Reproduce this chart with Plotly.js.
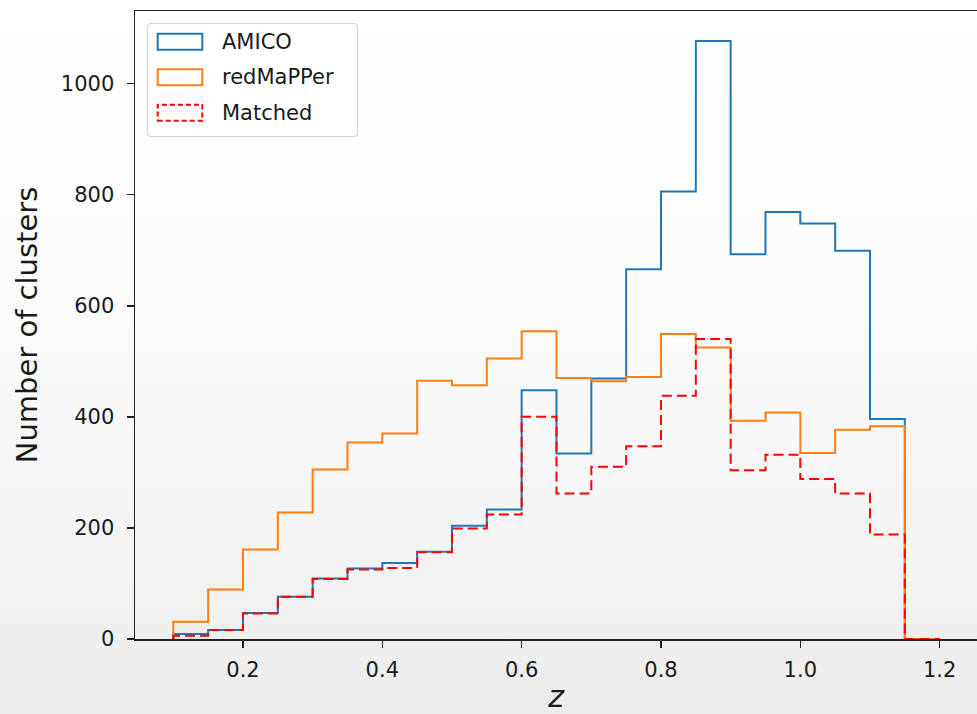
<!DOCTYPE html>
<html>
<head>
<meta charset="utf-8">
<script src="https://cdn.plot.ly/plotly-3.0.1.min.js"></script>
<style>
  html, body { margin: 0; padding: 0; overflow: hidden; }
  body { width: 977px; height: 714px; background: linear-gradient(to bottom, #ffffff 0%, #fbfbfb 45%, #f3f3f3 80%, #ebebeb 100%); }
  #chart { width: 977px; height: 714px; }
</style>
</head>
<body>
<div id="chart"></div>
<script>
// Bin edges of the redshift histograms
const binEdges = [0.10, 0.15, 0.20, 0.25, 0.30, 0.35, 0.40, 0.45, 0.50, 0.55, 0.60,
                  0.65, 0.70, 0.75, 0.80, 0.85, 0.90, 0.95, 1.00, 1.05, 1.10, 1.15, 1.20];

// Counts per bin
const amicoCounts = [9, 16, 47, 76, 109, 127, 137, 157, 204, 233, 448,
                     334, 469, 666, 806, 1077, 693, 769, 748, 699, 396, 0];
const redmapperCounts = [31, 89, 161, 228, 305, 354, 370, 465, 457, 505, 554,
                         470, 464, 472, 549, 525, 393, 408, 335, 377, 383, 0];
const matchedCounts = [6, 16, 46, 76, 108, 125, 128, 156, 199, 224, 400,
                       262, 310, 347, 438, 540, 304, 332, 288, 262, 188, 0];

const seriesNames = ["AMICO", "redMaPPer", "Matched"];
const yTickVals = [0, 200, 400, 600, 800, 1000];
const xTickVals = [0.2, 0.4, 0.6, 0.8, 1.0, 1.2];
const xTickText = ["0.2", "0.4", "0.6", "0.8", "1.0", "1.2"];

// step outline like matplotlib histtype='step'
function stepXY(edges, counts) {
  const x = [edges[0]].concat(edges);
  const y = [0].concat(counts).concat([0]);
  return {x: x, y: y};
}

const styles = [
  {color: "#1f77b4", dash: "solid"},
  {color: "#ff7f0e", dash: "solid"},
  {color: "#ff0000", dash: "10px,5px"}
];
const allCounts = [amicoCounts, redmapperCounts, matchedCounts];

const traces = allCounts.map((c, i) => {
  const s = stepXY(binEdges, c);
  return {
    type: "scatter", mode: "lines", name: seriesNames[i],
    x: s.x, y: s.y,
    line: {shape: "hv", color: styles[i].color, width: 2, dash: styles[i].dash},
    showlegend: false
  };
});

const W = 977, H = 714;
const M = {l: 135, r: 0, t: 11, b: 75};
const PW = W - M.l - M.r, PH = H - M.t - M.b;
const px = v => (v - M.l) / PW;
const py = v => (H - M.b - v) / PH;

const FONT = "DejaVu Sans, Liberation Sans, sans-serif";

// Legend drawn as matplotlib-like patches
const shapes = [];
const annotations = [];
(function () {
  const x0 = px(147.5), x1 = px(357.5), y0 = py(136.5), y1 = py(23.5);
  const rx = 4 / PW, ry = 4 / PH;
  shapes.push({
    type: "path", xref: "paper", yref: "paper",
    path: `M${x0 + rx},${y1} L${x1 - rx},${y1} Q${x1},${y1} ${x1},${y1 - ry} L${x1},${y0 + ry} Q${x1},${y0} ${x1 - rx},${y0} L${x0 + rx},${y0} Q${x0},${y0} ${x0},${y0 + ry} L${x0},${y1 - ry} Q${x0},${y1} ${x0 + rx},${y1} Z`,
    fillcolor: "rgba(255,255,255,0.85)", line: {color: "#d6d6d6", width: 1.2}, layer: "above"
  });
  const rows = [41.7, 77.2, 112.8];
  rows.forEach((cy, i) => {
    shapes.push({
      type: "rect", xref: "paper", yref: "paper",
      x0: px(157.7), x1: px(202.3), y0: py(cy + 8), y1: py(cy - 8),
      fillcolor: "rgba(0,0,0,0)",
      line: {color: styles[i].color, width: 2, dash: i === 2 ? "5px,3px" : "solid"},
      layer: "above"
    });
    annotations.push({
      xref: "paper", yref: "paper", x: px(220), y: py(cy),
      xanchor: "left", yanchor: "middle", showarrow: false,
      text: seriesNames[i], font: {family: FONT, size: 21, color: "#1a1a1a"}
    });
  });
})();

const layout = {
  width: W, height: H,
  margin: M,
  paper_bgcolor: "rgba(0,0,0,0)",
  plot_bgcolor: "rgba(0,0,0,0)",
  font: {family: FONT, size: 21, color: "#1a1a1a"},
  xaxis: {
    range: [0.045, 1.2536],
    tickvals: xTickVals, ticktext: xTickText,
    ticks: "outside", ticklen: 7, tickwidth: 1.5, tickcolor: "#222",
    showline: true, linecolor: "#222", linewidth: 1.5, mirror: true,
    showgrid: false, zeroline: false,
    ticklabelstandoff: 4,
    tickfont: {family: FONT, size: 21, color: "#1a1a1a"},
    title: {text: "<i>z</i>", font: {family: FONT, size: 30, color: "#1a1a1a"}, standoff: 6},
    automargin: false
  },
  yaxis: {
    range: [0, 1130.85],
    tickvals: yTickVals,
    ticks: "outside", ticklen: 7, tickwidth: 1.5, tickcolor: "#222",
    showline: true, linecolor: "#222", linewidth: 1.5, mirror: false,
    showgrid: false, zeroline: false,
    ticklabelstandoff: 8,
    tickfont: {family: FONT, size: 21, color: "#1a1a1a"},
    title: {text: "Number of clusters", font: {family: FONT, size: 29, color: "#1a1a1a"}, standoff: 14},
    automargin: false
  },
  shapes: shapes,
  annotations: annotations,
  showlegend: false
};

Plotly.newPlot("chart", traces, layout, {displayModeBar: false, staticPlot: true});
</script>
</body>
</html>
